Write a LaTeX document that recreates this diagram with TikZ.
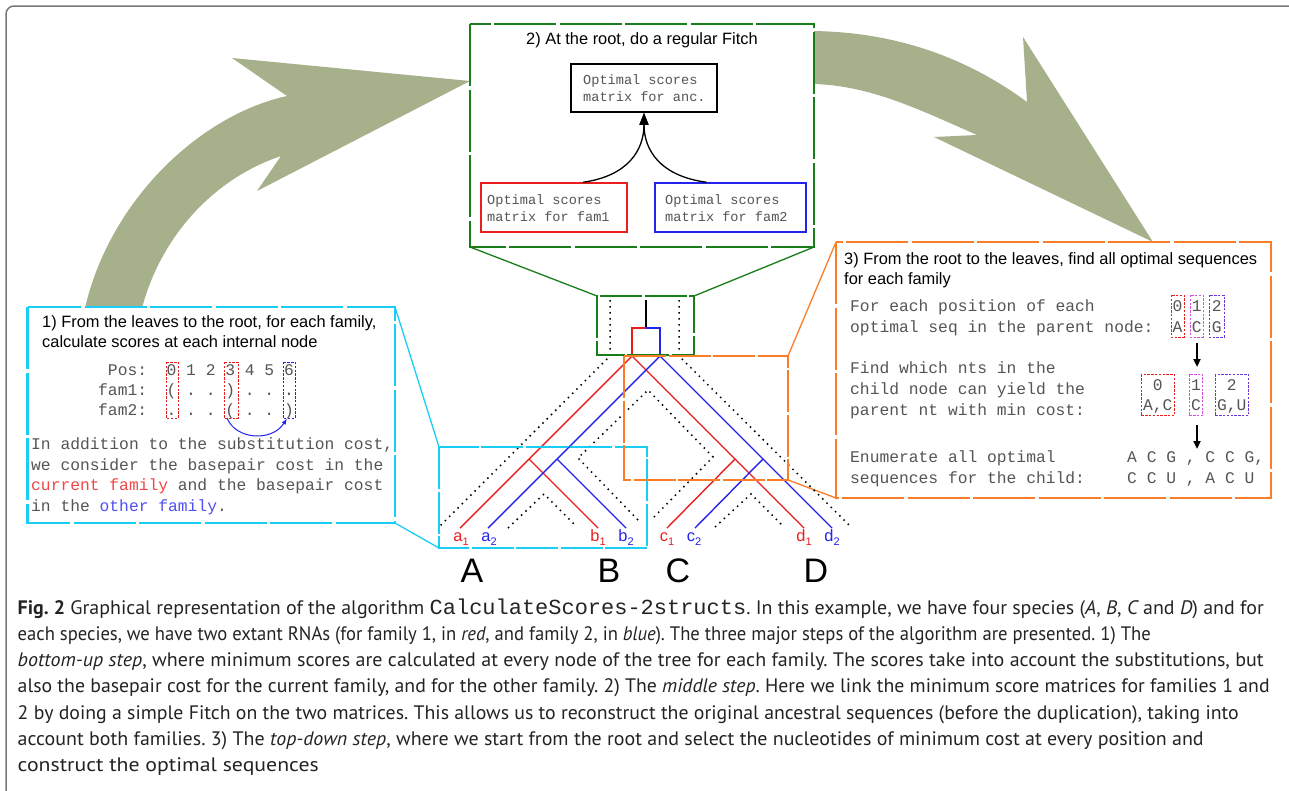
\documentclass[tikz,border=0pt]{standalone}
\usepackage{graphicx}
\usepackage{fontspec}
\setmainfont{Liberation Sans}
\newfontfamily\monof{Liberation Mono}
\newfontfamily\capf{PT Sans}
\usetikzlibrary{arrows.meta}
\frenchspacing
\newcommand{\setfs}[1]{\fontsize{#1pt}{#1pt}\selectfont}
\newcommand{\leaflab}[2]{#1\raisebox{-3.5pt}{\setfs{11}#2}}
% caption line set to a given measure
\newcommand{\capline}[2]{\resizebox{#1pt}{\height}{#2}}
\definecolor{sage}{RGB}{166,176,138}
\definecolor{framegray}{RGB}{120,120,120}
\definecolor{fitchgreen}{RGB}{25,125,25}
\definecolor{leafcyan}{RGB}{25,205,245}
\definecolor{rootorange}{RGB}{250,125,40}
\definecolor{famred}{RGB}{235,30,30}
\definecolor{famblue}{RGB}{35,35,235}
\definecolor{txtred}{RGB}{240,70,70}
\definecolor{txtblue}{RGB}{80,80,240}
\definecolor{mgray}{RGB}{85,85,85}
\definecolor{posmag}{RGB}{215,80,225}
\definecolor{pospur}{RGB}{105,55,215}
\definecolor{captxt}{RGB}{35,35,35}
\begin{document}
\begin{tikzpicture}[x=1pt,y=-1pt,
  lbl/.style={inner sep=0pt, anchor=base west},
  ttl/.style={lbl, font=\setfs{16.4}},
  mono/.style={lbl, font=\monof\setfs{16.3}, text=mgray},
  smono/.style={lbl, font=\monof\setfs{13.6}, text=mgray},
  cmono/.style={inner sep=0pt, anchor=base, font=\monof\setfs{16.3}, text=mgray},
  captionline/.style={lbl, font=\capf\setfs{19.5}, text=captxt},
  bigbox/.style={line width=2.6pt, dash pattern=on 62pt off 3.5pt, fill=white},
  zoombox/.style={line width=1.5pt, dash pattern=on 42pt off 2.5pt},
  linkline/.style={line width=1.3pt},
  redline/.style={famred, line width=1.4pt},
  blueline/.style={famblue, line width=1.4pt},
  spdot/.style={line width=1.5pt, dash pattern=on 1.5pt off 4.5pt},
  posbox/.style={line width=1pt, dash pattern=on 2.4pt off 1.4pt},
  matbox/.style={rectangle, inner sep=0pt, line width=1.5pt, fill=white},
  leaf/.style={inner sep=0pt, anchor=base, font=\setfs{16.4}},
  species/.style={inner sep=0pt, anchor=base, font=\setfs{34}},
  downarrow/.style={line width=2pt, -{Triangle[length=8pt,width=7pt]}},
]
\useasboundingbox (0,0) rectangle (1289,790);

% outer frame
\draw[framegray, line width=1.5pt, rounded corners=8pt]
  (6,820) -- (6,6) -- (1296,6) -- (1296,820);

% big curved arrows
\fill[sage] (85,308) .. controls (110,200) and (200,115) .. (287,96)
  -- (232,58) -- (470,81) -- (257,191) -- (281,156)
  .. controls (210,180) and (160,240) .. (142,308) -- cycle;
\fill[sage] (812,31) .. controls (900,32) and (970,60) .. (1027,102)
  -- (1023,37) -- (1153,242) -- (934,137) -- (977,135)
  .. controls (920,110) and (870,85) .. (812,84) -- cycle;

% zoom links from the tree to the step boxes
\draw[fitchgreen, linkline] (470,247) -- (597,296);
\draw[fitchgreen, linkline] (814,247) -- (694,296);
\draw[leafcyan, linkline] (395,307) -- (439,447);
\draw[leafcyan, linkline] (395,523) -- (439,548);
\draw[rootorange, linkline] (836,242) -- (788,356);
\draw[rootorange, linkline] (836,498) -- (788,480);

% ---------- step 2: Fitch at the root ----------
\draw[fitchgreen, bigbox] (470,24) rectangle (814,247);
\node[ttl, anchor=base] (t2) at (642,44) {2) At the root, do a regular Fitch};
\node[matbox, draw=black, line width=1.8pt, minimum width=146pt, minimum height=48pt] (anc) at (644,88) {};
\node[matbox, draw=famred, minimum width=146pt, minimum height=49pt] (fam1) at (554,207.5) {};
\node[matbox, draw=famblue, minimum width=151pt, minimum height=49pt] (fam2) at (730.5,207.5) {};
\node[smono] (anc1) at (583,84) {Optimal scores};
\node[smono] (anc2) at (583,101.7) {matrix for anc.};
\node[smono] (f1a) at (487,204) {Optimal scores};
\node[smono] (f1b) at (487,221) {matrix for fam1};
\node[smono] (f2a) at (665,204) {Optimal scores};
\node[smono] (f2b) at (665,221) {matrix for fam2};
\draw[line width=1.3pt, -{Triangle[length=12pt,width=9pt]}]
  ([xshift=29pt]fam1.north) .. controls (628,176) and (644,150) .. (anc.south);
\draw[line width=1.3pt, -{Triangle[length=12pt,width=9pt]}]
  ([xshift=-24pt]fam2.north) .. controls (660,176) and (644,150) .. (anc.south);

% ---------- step 1: bottom-up ----------
\draw[leafcyan, bigbox] (27.5,307) rectangle (395,523);
\node[ttl] (t1a) at (42,327) {1) From the leaves to the root, for each family,};
\node[ttl] (t1b) at (42,347) {calculate scores at each internal node};
\draw[famred, posbox] (166,362) rectangle (178,418);
\draw[famred, posbox] (224,362) rectangle (238,418);
\draw[famblue, posbox] (283,362) rectangle (295,418);
\node[mono] (pos) at (98,375) {~Pos:~~0~1~2~3~4~5~6};
\node[mono] (s1) at (98,395) {fam1:~~(~.~.~)~.~.~.};
\node[mono] (s2) at (98,415) {fam2:~~.~.~.~(~.~.~)};
\coordinate (pair3) at (227,418);
\coordinate (pair6) at (287,418.5);
\draw[famblue, line width=1pt, -{Latex[length=6pt,width=4.5pt]}]
  (pair3) .. controls (236,440) and (272,442) .. (pair6);
\node[mono] (c1) at (31,449.3) {In addition to the substitution cost,};
\node[mono] (c2) at (31,470) {we consider the basepair cost in the};
\node[mono] (c3) at (31,490.7) {\textcolor{txtred}{current family} and the basepair cost};
\node[mono] (c4) at (31,511.3) {in the \textcolor{txtblue}{other family}.};

% ---------- step 3: top-down ----------
\draw[rootorange, bigbox] (836,242) rectangle (1271,498);
\node[ttl] (t3a) at (844,264.3) {3) From the root to the leaves, find all optimal sequences};
\node[ttl] (t3b) at (844,284.3) {for each family};
\node[mono] (o1) at (850,311.7) {For each position of each};
\node[mono] (o2) at (850,332.3) {optimal seq in the parent node:};
\node[mono] (o3) at (850,373.3) {Find which nts in the};
\node[mono] (o4) at (850,394.3) {child node can yield the};
\node[mono] (o5) at (850,415) {parent nt with min cost:};
\node[mono] (o6) at (850,462.7) {Enumerate all optimal};
\node[mono] (o7) at (850,483.3) {sequences for the child:};
% parent positions
\draw[famred, posbox] (1171,295) rectangle (1184,337);
\draw[posmag, posbox] (1190,295) rectangle (1203,337);
\draw[pospur, posbox] (1209,295) rectangle (1224,337);
\node[cmono] (p0) at (1177.5,311.7) {0};
\node[cmono] (p1) at (1196.7,311.7) {1};
\node[cmono] (p2) at (1216.7,311.7) {2};
\node[cmono] (pa) at (1177.5,332.3) {A};
\node[cmono] (pc) at (1196.7,332.3) {C};
\node[cmono] (pg) at (1216.7,332.3) {G};
% child candidates
\draw[famred, posbox] (1141,374.3) rectangle (1174.3,415.7);
\draw[posmag, posbox] (1189,374.3) rectangle (1202.7,415.7);
\draw[pospur, posbox] (1215,374.3) rectangle (1248.3,415.7);
\node[cmono] (q0) at (1157.7,390) {0};
\node[cmono] (q1) at (1196,390) {1};
\node[cmono] (q2) at (1231.7,390) {2};
\node[cmono] (qa) at (1157.7,410.7) {A,C};
\node[cmono] (qc) at (1196,410.7) {C};
\node[cmono] (qg) at (1231.7,410.7) {G,U};
\node[mono] (e1) at (1127,462.7) {A C G , C C G,};
\node[mono] (e2) at (1127,483.3) {C C U , A C U};
\coordinate (arA) at (1197,343);
\coordinate (arB) at (1197,367);
\coordinate (arC) at (1197,425);
\coordinate (arD) at (1197,449);
\draw[downarrow] (arA) -- (arB);
\draw[downarrow] (arC) -- (arD);

% ---------- tree ----------
\coordinate (rtop) at (646,300);
\coordinate (rjoin) at (646,328);
\coordinate (rr) at (632,328);
\coordinate (rb) at (660,328);
\coordinate (r0) at (632,356);
\coordinate (b0) at (660,356);
\coordinate (rab) at (529,459);
\coordinate (rcd) at (735,459);
\coordinate (bab) at (557,459);
\coordinate (bcd) at (763,459);
\coordinate (la1) at (460,528);
\coordinate (lb1) at (598,528);
\coordinate (lc1) at (667,528);
\coordinate (ld1) at (804,528);
\coordinate (la2) at (488,528);
\coordinate (lb2) at (626,528);
\coordinate (lc2) at (695,528);
\coordinate (ld2) at (832,528);

% species tree outline
\draw[spdot] (610,300) -- (610,356) -- (440,526);
\draw[spdot] (679,300) -- (679,356) -- (850,526);
\draw[spdot] (638,520) -- (578,458) -- (648,390) -- (713,457) -- (653,518);
\draw[spdot] (508,528) -- (544,494) -- (575,525);
\draw[spdot] (715,527) -- (751,494) -- (782,525);

% gene trees
\draw[line width=1.6pt] (rtop) -- (rjoin);
\draw[redline] (rjoin) -- (rr) -- (r0);
\draw[blueline] (rjoin) -- (rb) -- (b0);
\draw[redline] (la1) -- (r0) -- (ld1);
\draw[redline] (rab) -- (lb1);
\draw[redline] (rcd) -- (lc1);
\draw[blueline] (la2) -- (b0) -- (ld2);
\draw[blueline] (bab) -- (lb2);
\draw[blueline] (bcd) -- (lc2);

% zoom frames on the tree
\draw[fitchgreen, zoombox] (597,296) rectangle (694,355);
\draw[leafcyan, zoombox] (439,447) rectangle (647,548);
\draw[rootorange, zoombox] (624,356) rectangle (788,480);

% leaf labels
\node[leaf, text=famred] (na1) at (461,541.7) {\leaflab{a}{1}};
\node[leaf, text=famblue] (na2) at (489,541.7) {\leaflab{a}{2}};
\node[leaf, text=famred] (nb1) at (598,541.7) {\leaflab{b}{1}};
\node[leaf, text=famblue] (nb2) at (626,541.7) {\leaflab{b}{2}};
\node[leaf, text=famred] (nc1) at (667,541.7) {\leaflab{c}{1}};
\node[leaf, text=famblue] (nc2) at (694,541.7) {\leaflab{c}{2}};
\node[leaf, text=famred] (nd1) at (804,541.7) {\leaflab{d}{1}};
\node[leaf, text=famblue] (nd2) at (832,541.7) {\leaflab{d}{2}};
\node[species] (spA) at (472,582.7) {A};
\node[species] (spB) at (609,582.7) {B};
\node[species] (spC) at (678,582.7) {C};
\node[species] (spD) at (816,582.7) {D};

% caption
\node[captionline] (cap1) at (17.5,614) {\capline{1246}{{\bfseries Fig.~2} Graphical representation of the algorithm {\monof\setfs{21.5}CalculateScores-2structs}. In this example, we have four species ({\itshape A}, {\itshape B}, {\itshape C} and {\itshape D}) and for}};
\node[captionline] (cap2) at (17.5,640.3) {\capline{1133}{each species, we have two extant RNAs (for family 1, in {\itshape red}, and family 2, in {\itshape blue}). The three major steps of the algorithm are presented. 1) The}};
\node[captionline] (cap3) at (17.5,666.6) {\capline{1246}{{\itshape bottom-up step}, where minimum scores are calculated at every node of the tree for each family. The scores take into account the substitutions, but}};
\node[captionline] (cap4) at (17.5,692.9) {\capline{1252}{also the basepair cost for the current family, and for the other family. 2) The {\itshape middle step}. Here we link the minimum score matrices for families 1 and}};
\node[captionline] (cap5) at (17.5,719.2) {\capline{1221}{2 by doing a simple Fitch on the two matrices. This allows us to reconstruct the original ancestral sequences (before the duplication), taking into}};
\node[captionline] (cap6) at (17.5,745.5) {\capline{1186}{account both families. 3) The {\itshape top-down step}, where we start from the root and select the nucleotides of minimum cost at every position and}};
\node[captionline] (cap7) at (17.5,771.8) {\capline{301}{construct the optimal sequences}};
\end{tikzpicture}
\end{document}
